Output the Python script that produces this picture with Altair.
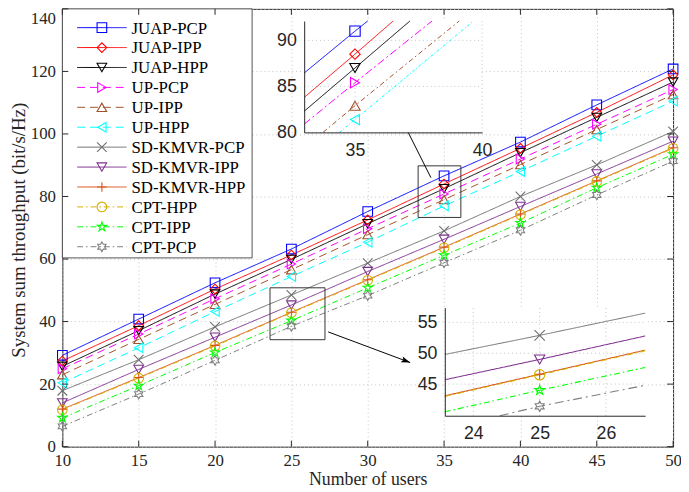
import math
import altair as alt
import pandas as pd

# ---------------- data ----------------
users = [10, 15, 20, 25, 30, 35, 40, 45, 50]
y_ticks = [0, 20, 40, 60, 80, 100, 120, 140]

series_names = ["JUAP-PCP", "JUAP-IPP", "JUAP-HPP", "UP-PCP", "UP-IPP", "UP-HPP",
                "SD-KMVR-PCP", "SD-KMVR-IPP", "SD-KMVR-HPP", "CPT-HPP", "CPT-IPP", "CPT-PCP"]

juap_pcp = [29.2, 40.8, 52.4, 63.2, 75.2, 86.6, 97.4, 109.3, 120.8]
juap_ipp = [27.4, 38.7, 50.4, 61.3, 72.5, 84.0, 95.4, 106.9, 118.9]
juap_hpp = [25.7, 37.1, 48.8, 59.9, 71.3, 82.5, 94.0, 105.3, 116.6]
up_pcp = [24.9, 36.0, 47.3, 58.4, 69.7, 80.8, 92.0, 103.1, 114.2]
up_ipp = [23.0, 34.3, 45.5, 56.6, 67.8, 79.0, 90.2, 101.4, 112.6]
up_hpp = [20.4, 31.6, 43.2, 54.4, 65.4, 77.0, 88.0, 99.3, 110.5]
sd_kmvr_pcp = [17.9, 27.8, 38.3, 48.5, 58.7, 69.0, 80.0, 90.1, 100.8]
sd_kmvr_ipp = [14.0, 24.7, 35.0, 45.3, 56.0, 66.3, 76.8, 87.2, 97.7]
sd_kmvr_hpp = [12.0, 22.1, 32.4, 43.0, 53.4, 63.8, 74.4, 85.0, 95.6]
cpt_hpp = [11.8, 21.9, 32.2, 42.8, 53.2, 63.6, 74.2, 84.8, 95.4]
cpt_ipp = [9.2, 19.5, 30.1, 40.3, 50.8, 61.2, 71.5, 82.8, 93.5]
cpt_pcp = [6.5, 16.8, 27.6, 38.5, 48.3, 58.8, 69.2, 80.5, 91.3]
main_values = [juap_pcp, juap_ipp, juap_hpp, up_pcp, up_ipp, up_hpp,
               sd_kmvr_pcp, sd_kmvr_ipp, sd_kmvr_hpp, cpt_hpp, cpt_ipp, cpt_pcp]

# upper inset
inset1_names = series_names[:6]
inset1_xs = [[33, 35, 35.5], [33, 35, 36.5], [33, 35, 37.16],
             [33, 35, 38.03], [33.74, 35, 39.1], [34.39, 35, 39.66]]
inset1_ys = [[86.45, 91.0, 92.1], [83.8, 88.5, 92.1], [82.3, 87.0, 92.1],
             [80.9, 85.4, 92.1], [80.0, 82.9, 92.1], [80.0, 81.4, 92.1]]
inset1_marker_x = 35
inset1_xdomain = [33, 40]
inset1_ydomain = [80, 92.1]
inset1_xticks = [35, 40]
inset1_yticks = [80, 85, 90]

# lower inset
inset2_names = series_names[6:]
inset2_xs = [[23.57, 25, 26.59], [23.57, 25, 26.59], [23.57, 25, 26.59],
             [23.57, 25, 26.59], [23.57, 25, 26.59], [24.4, 25, 26.59]]
inset2_ys = [[49.8, 52.9, 56.5], [45.7, 49.0, 52.8], [43.1, 46.6, 50.5],
             [43.0, 46.5, 50.4], [40.5, 44.0, 47.7], [39.87, 41.4, 44.8]]
inset2_marker_x = 25
inset2_xdomain = [23.57, 26.59]
inset2_ydomain = [39.87, 57.4]
inset2_xticks = [24, 25, 26]
inset2_yticks = [45, 50, 55]

# zoom boxes and arrows (main-chart data coordinates)
zoom_x1 = [33.3, 23.6]
zoom_x2 = [36.1, 27.2]
zoom_y1 = [73.3, 34.2]
zoom_y2 = [89.8, 50.8]
arrow_x_from = [34.14, 27.41]
arrow_y_from = [86.0, 36.7]
arrow_x_to = [31.81, 32.78]
arrow_y_to = [108.7, 26.9]

# ---------------- styles ----------------
W, H = 618, 443
SERIF = "Liberation Serif"
SANS = "Liberation Sans"
INK = "#262626"
GRID = "#C4C4C4"

colors = ["#0000FF", "#FF0000", "#000000", "#FF00FF", "#A0522D", "#00FFFF",
          "#6E6E6E", "#7E2F8E", "#D95319", "#D4B000", "#00FF00", "#7F7F7F"]
X_PATH = "M-1,-1L1,1M-1,1L1,-1"
PLUS_PATH = "M-1,0L1,0M0,-1L0,1"
STAR_PATH = ("M0,-1L0.225,-0.309L0.951,-0.309L0.363,0.118L0.588,0.809L0,0.382"
             "L-0.588,0.809L-0.363,0.118L-0.951,-0.309L-0.225,-0.309Z")
HEX_PATH = ("M0,-1L0.289,-0.5L0.866,-0.5L0.577,0L0.866,0.5L0.289,0.5L0,1"
            "L-0.289,0.5L-0.866,0.5L-0.577,0L-0.866,-0.5L-0.289,-0.5Z")
ARROW_PATH = "M0,0L0.5,1.5L0,1.2L-0.5,1.5Z"
shapes = ["square", "diamond", "triangle-down", "triangle-right", "triangle-up", "triangle-left",
          X_PATH, "triangle-down", PLUS_PATH, "circle", STAR_PATH, HEX_PATH]
SOLID = [1, 0]
DASH = [8, 5]
DASHDOT = [6, 3, 1.5, 3]
main_dashes = [SOLID, SOLID, SOLID, DASH, DASH, DASH,
               SOLID, SOLID, SOLID, DASHDOT, DASHDOT, DASHDOT]
main_widths = [1, 1, 1, 1.1, 1.1, 2.2, 1, 1.1, 1.1, 1.1, 1, 1]
in1_dashes = [SOLID, SOLID, SOLID, [8, 3, 2, 3], [5, 3, 1.5, 3], [3, 2, 1, 2]]
in1_widths = [1, 1, 1, 2.2, 1, 1.3]
in2_dashes = [SOLID, SOLID, SOLID, [6, 3, 1.5, 3], [6, 3, 1.5, 3], [9, 4, 2, 4]]
in2_widths = [1, 1.1, 1.1, 1.1, 1, 1]
MSIZE = 95

# inset placement (pixels inside plot area)
in1_px = [244.7, 424.7]
in1_py = [125.0, 12.3]
in2_px = [387.0, 589.7]
in2_py = [411.7, 302.3]


def long_df(names, xs_list, ys_list):
    rows = []
    for n, xs, ys in zip(names, xs_list, ys_list):
        for xv, yv in zip(xs, ys):
            rows.append({"series": n, "x": xv, "y": yv})
    return pd.DataFrame(rows)


color_enc = alt.Color("series:N", scale=alt.Scale(domain=series_names, range=colors), legend=None)
shape_enc = alt.Shape("series:N", scale=alt.Scale(domain=series_names, range=shapes), legend=None)

# ---------------- main plot ----------------
main_df = long_df(series_names, [users] * len(series_names), main_values)


def x_main():
    return alt.Scale(domain=[10, 50], nice=False, zero=False)


def y_main():
    return alt.Scale(domain=[0, 140], nice=False, zero=False)


main_lines = alt.Chart(main_df).mark_line().encode(
    x=alt.X("x:Q", scale=x_main(), axis=alt.Axis(
        orient="bottom", values=users, domain=False, ticks=False, labelFlush=False,
        labelFont=SERIF, labelFontSize=17, labelColor=INK, labelPadding=6,
        grid=True, gridDash=[1, 3], gridColor=GRID, gridWidth=1,
        title="Number of users", titleFont=SERIF, titleFontSize=18, titleFontWeight="normal",
        titleColor=INK, titleBaseline="top", titleY=24, titleX=W / 2)),
    y=alt.Y("y:Q", scale=y_main(), axis=alt.Axis(
        orient="left", values=y_ticks, domain=False, ticks=False, labelFlush=False,
        labelFont=SERIF, labelFontSize=17, labelColor=INK, labelPadding=7,
        labelOffset={"condition": {"test": "datum.value === 140", "value": 10}, "value": 0},
        grid=True, gridDash=[1, 3], gridColor=GRID, gridWidth=1,
        title="System sum throughput (bit/s/Hz)", titleFont=SERIF, titleFontSize=19,
        titleFontWeight="normal", titleColor=INK, titleBaseline="bottom",
        titleAngle=270, titleX=-34, titleY=H / 2 + 2)),
    color=color_enc,
    strokeDash=alt.StrokeDash("series:N", scale=alt.Scale(domain=series_names, range=main_dashes), legend=None),
    strokeWidth=alt.StrokeWidth("series:N", scale=alt.Scale(domain=series_names, range=main_widths), legend=None),
)
main_points = alt.Chart(main_df).mark_point(filled=False, size=MSIZE, strokeWidth=1.1, opacity=1).encode(
    x=alt.X("x:Q", scale=x_main(), axis=None),
    y=alt.Y("y:Q", scale=y_main(), axis=None),
    color=color_enc, shape=shape_enc,
)
zoom_df = pd.DataFrame({"x1": zoom_x1, "x2": zoom_x2, "y1": zoom_y1, "y2": zoom_y2})
zoom_boxes = alt.Chart(zoom_df).mark_rect(fillOpacity=0, stroke="#333333", strokeWidth=1).encode(
    x=alt.X("x1:Q", scale=x_main(), axis=None), x2="x2:Q",
    y=alt.Y("y1:Q", scale=y_main(), axis=None), y2="y2:Q",
)
px_x = W / 40.0
px_y = H / 140.0
angles = [math.degrees(math.atan2((xt - xf) * px_x, (yt - yf) * px_y)) % 360
          for xf, yf, xt, yt in zip(arrow_x_from, arrow_y_from, arrow_x_to, arrow_y_to)]
arrow_df = pd.DataFrame({"xf": arrow_x_from, "yf": arrow_y_from,
                         "xt": arrow_x_to, "yt": arrow_y_to, "ang": angles})
arrow_lines = alt.Chart(arrow_df).mark_rule(color="black", strokeWidth=1).encode(
    x=alt.X("xf:Q", scale=x_main(), axis=None), x2="xt:Q",
    y=alt.Y("yf:Q", scale=y_main(), axis=None), y2="yt:Q",
)
arrow_heads = alt.Chart(arrow_df).mark_point(shape=ARROW_PATH, filled=True, color="black",
                                             size=150, opacity=1).encode(
    x=alt.X("xt:Q", scale=x_main(), axis=None),
    y=alt.Y("yt:Q", scale=y_main(), axis=None),
    angle=alt.Angle("ang:Q", scale=None),
)
main_parts = [main_lines, main_points, zoom_boxes, arrow_lines, arrow_heads]


# ---------------- insets ----------------
def inset_parts(names, xs, ys, marker_x, xdom, ydom, xticks, yticks, px, py, dashes, widths):
    df = long_df(names, xs, ys)

    def xs_():
        return alt.Scale(domain=xdom, range=px, nice=False, zero=False)

    def ys_():
        return alt.Scale(domain=ydom, range=py, nice=False, zero=False)

    bg = alt.Chart(pd.DataFrame({"x1": [xdom[0]], "x2": [xdom[1]], "y1": [ydom[0]], "y2": [ydom[1]]})
                   ).mark_rect(color="white", opacity=1).encode(
        x=alt.X("x1:Q", scale=xs_(), axis=None), x2="x2:Q",
        y=alt.Y("y1:Q", scale=ys_(), axis=None), y2="y2:Q")
    gv = alt.Chart(pd.DataFrame({"t": xticks, "lo": ydom[0], "hi": ydom[1]})).mark_rule(
        color=GRID, strokeDash=[1, 3], strokeWidth=1).encode(
        x=alt.X("t:Q", scale=xs_(), axis=None),
        y=alt.Y("lo:Q", scale=ys_(), axis=None), y2="hi:Q")
    gh = alt.Chart(pd.DataFrame({"t": yticks, "lo": xdom[0], "hi": xdom[1]})).mark_rule(
        color=GRID, strokeDash=[1, 3], strokeWidth=1).encode(
        y=alt.Y("t:Q", scale=ys_(), axis=None),
        x=alt.X("lo:Q", scale=xs_(), axis=None), x2="hi:Q")
    lines = alt.Chart(df).mark_line().encode(
        x=alt.X("x:Q", scale=xs_(), axis=alt.Axis(
            orient="bottom", offset=py[0] - H, values=xticks, ticks=False, grid=False,
            domain=True, domainColor=INK, domainWidth=1, labelFlush=False,
            labelFont=SANS, labelFontSize=18, labelColor=INK, labelPadding=9,
            title=None, zindex=1)),
        y=alt.Y("y:Q", scale=ys_(), axis=alt.Axis(
            orient="left", offset=-px[0], values=yticks, ticks=False, grid=False,
            domain=True, domainColor=INK, domainWidth=1, labelFlush=False,
            labelFont=SANS, labelFontSize=18, labelColor=INK, labelPadding=8,
            title=None, zindex=1)),
        color=color_enc,
        strokeDash=alt.StrokeDash("series:N", scale=alt.Scale(domain=names, range=dashes), legend=None),
        strokeWidth=alt.StrokeWidth("series:N", scale=alt.Scale(domain=names, range=widths), legend=None),
    )
    pts = alt.Chart(df[df["x"] == marker_x]).mark_point(
        filled=False, size=MSIZE + 15, strokeWidth=1.1, opacity=1).encode(
        x=alt.X("x:Q", scale=xs_(), axis=None),
        y=alt.Y("y:Q", scale=ys_(), axis=None),
        color=color_enc, shape=shape_enc)
    return [bg, gv, gh, lines, pts]


inset1 = inset_parts(inset1_names, inset1_xs, inset1_ys, inset1_marker_x, inset1_xdomain,
                     inset1_ydomain, inset1_xticks, inset1_yticks, in1_px, in1_py,
                     in1_dashes, in1_widths)
inset2 = inset_parts(inset2_names, inset2_xs, inset2_ys, inset2_marker_x, inset2_xdomain,
                     inset2_ydomain, inset2_xticks, inset2_yticks, in2_px, in2_py,
                     in2_dashes, in2_widths)

# ---------------- legend ----------------
leg_df = pd.DataFrame({"series": series_names})


def leg_y():
    return alt.Scale(type="point", domain=series_names, range=[19, 240.7], padding=0)


leg_box = alt.Chart(leg_df.head(1)).mark_rect(fill="white", stroke=INK, strokeWidth=0.8).encode(
    x=alt.value(0), x2=alt.value(192), y=alt.value(0), y2=alt.value(252))
leg_lines = alt.Chart(leg_df).mark_rule().encode(
    x=alt.value(15), x2=alt.value(65),
    y=alt.Y("series:N", scale=leg_y(), axis=None),
    color=color_enc,
    strokeDash=alt.StrokeDash("series:N", scale=alt.Scale(domain=series_names, range=main_dashes), legend=None),
    strokeWidth=alt.StrokeWidth("series:N", scale=alt.Scale(domain=series_names, range=main_widths), legend=None),
)
leg_pts = alt.Chart(leg_df).mark_point(filled=False, size=MSIZE, strokeWidth=1.1, opacity=1).encode(
    x=alt.value(40), y=alt.Y("series:N", scale=leg_y(), axis=None), color=color_enc, shape=shape_enc)
leg_text = alt.Chart(leg_df).mark_text(align="left", baseline="middle", font=SERIF, fontSize=17,
                                       color="black", dy=1).encode(
    x=alt.value(70), y=alt.Y("series:N", scale=leg_y(), axis=None), text="series:N")
legend_parts = [leg_box, leg_lines, leg_pts, leg_text]

# ---------------- inward ticks on the frame ----------------
xt_df = pd.DataFrame({"t": users})
yt_df = pd.DataFrame({"t": y_ticks})
t_bottom = alt.Chart(xt_df).mark_rule(color=INK).encode(
    x=alt.X("t:Q", scale=x_main(), axis=None), y=alt.value(H - 6), y2=alt.value(H))
t_top = alt.Chart(xt_df).mark_rule(color=INK).encode(
    x=alt.X("t:Q", scale=x_main(), axis=None), y=alt.value(0), y2=alt.value(6))
t_left = alt.Chart(yt_df).mark_rule(color=INK).encode(
    y=alt.Y("t:Q", scale=y_main(), axis=None), x=alt.value(0), x2=alt.value(6))
t_right = alt.Chart(yt_df).mark_rule(color=INK).encode(
    y=alt.Y("t:Q", scale=y_main(), axis=None), x=alt.value(W - 6), x2=alt.value(W))
tick_parts = [t_bottom, t_top, t_left, t_right]

chart = alt.layer(*(main_parts + inset1 + inset2 + legend_parts + tick_parts)).resolve_scale(
    x="independent", y="independent", strokeDash="independent", strokeWidth="independent"
).properties(
    width=W, height=H,
    padding={"left": 55, "top": -2, "right": 8, "bottom": 43},
    autosize=alt.AutoSizeParams(type="none"),
    background="white",
).configure_view(stroke=INK, strokeWidth=1)

chart.save("out.html", embed_options={"renderer": "svg", "actions": False})
